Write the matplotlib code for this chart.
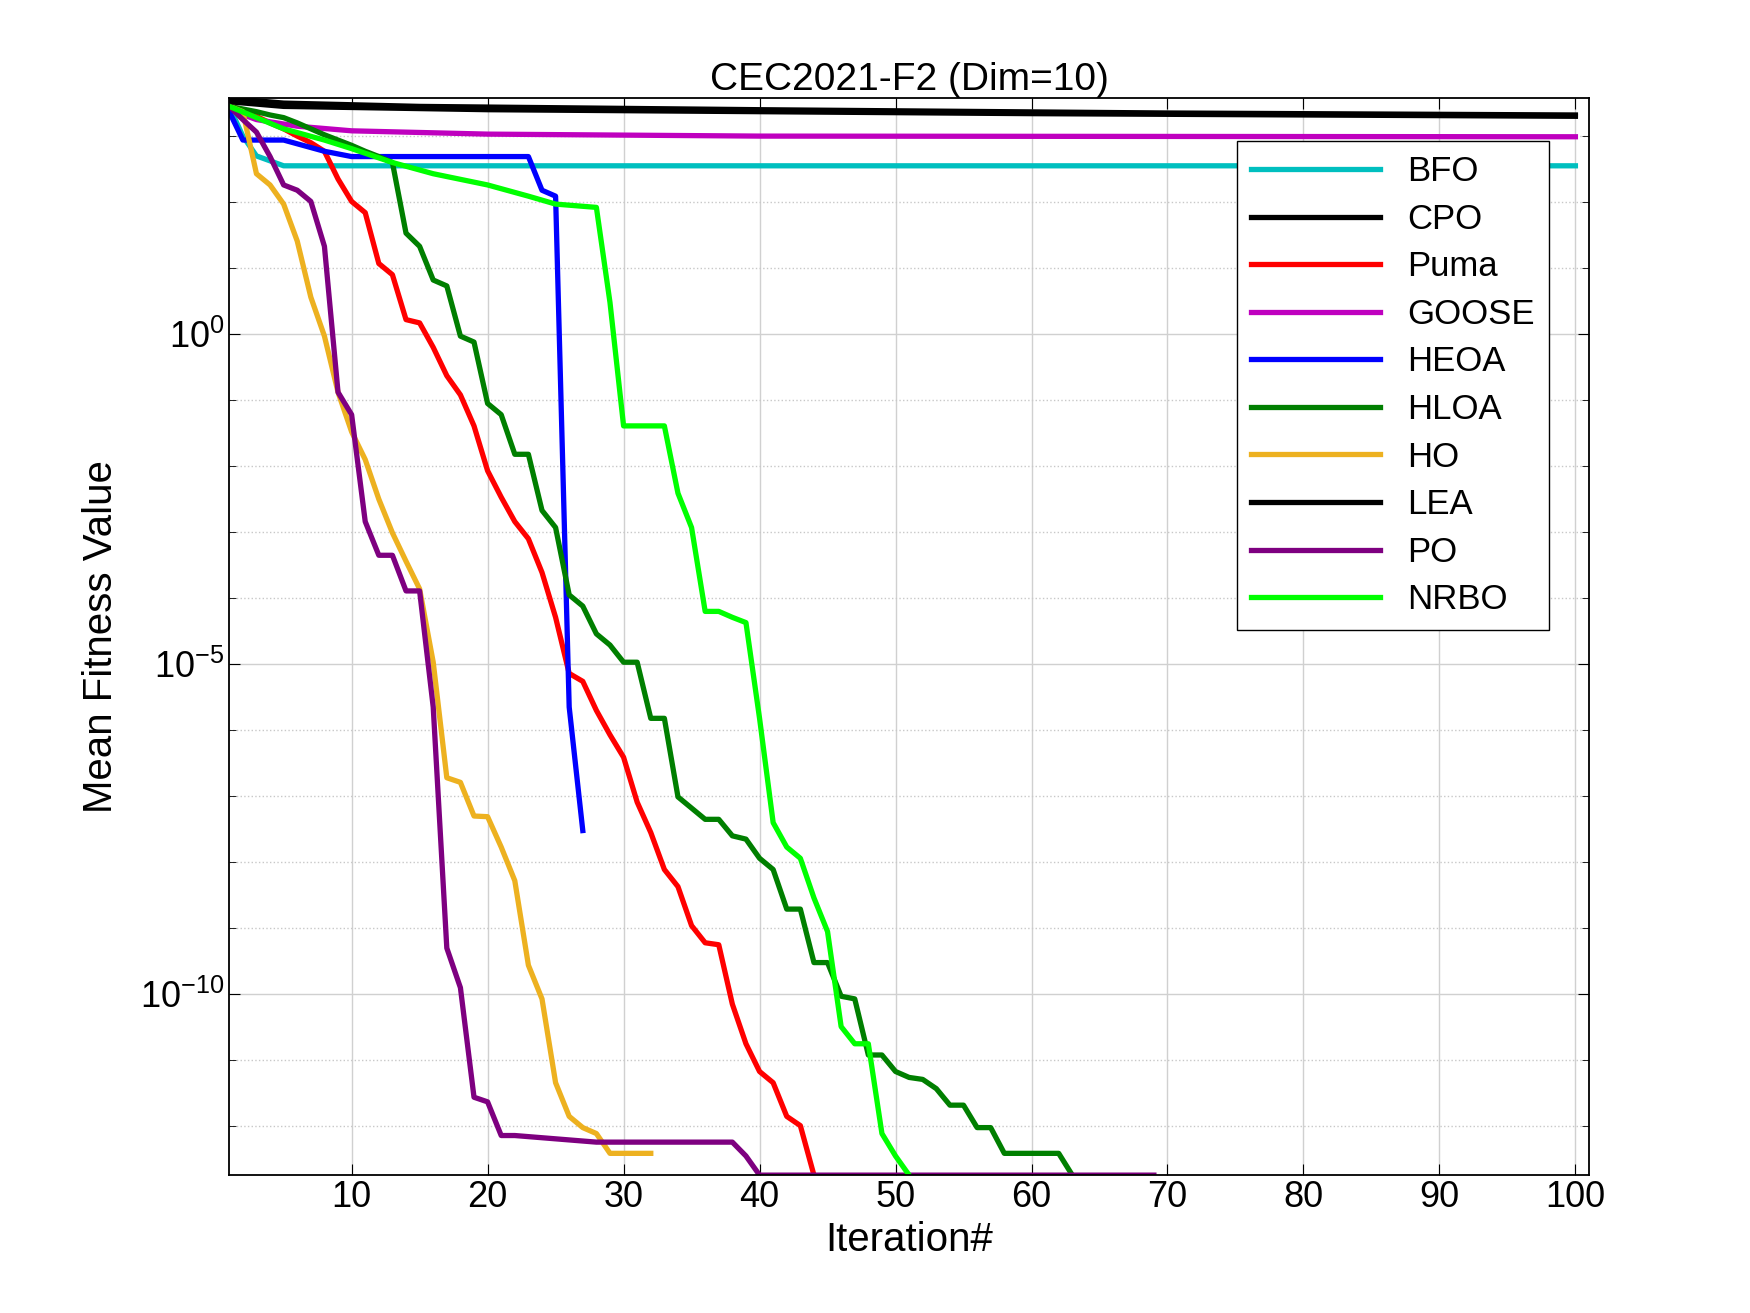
import numpy as np
import matplotlib.pyplot as plt
from matplotlib.ticker import LogLocator, NullFormatter, FixedLocator

plt.rcParams['font.family'] = ['Liberation Sans', 'DejaVu Sans']
plt.rcParams['mathtext.fontset'] = 'custom'
plt.rcParams['mathtext.rm'] = 'Liberation Sans'
plt.rcParams['mathtext.it'] = 'Liberation Sans:italic'

# log10 of mean fitness
bfo_it = [1, 2, 3, 5, 100]
bfo_lg = [3.45, 3.0, 2.7, 2.55, 2.55]
cpo_it = [1, 5, 15, 40, 70, 100]
cpo_lg = [3.57, 3.50, 3.45, 3.40, 3.35, 3.32]
lea_it = [1, 5, 20, 60, 100]
lea_lg = [3.52, 3.45, 3.40, 3.34, 3.30]
goose_it = [1, 3, 6, 10, 20, 40, 100]
goose_lg = [3.40, 3.25, 3.15, 3.08, 3.03, 3.00, 2.99]
heoa_it = [1, 2, 5, 8, 10, 23, 24, 25, 26, 27]
heoa_lg = [3.37, 2.94, 2.94, 2.77, 2.69, 2.69, 2.18, 2.09, -5.65, -7.52]
hloa_it = list(range(1, 64))
hloa_lg = [3.45, 3.41, 3.37, 3.32, 3.28, 3.20, 3.11, 3.02, 2.94, 2.86, 2.77, 2.69, 2.60,
           1.53, 1.33, 0.82, 0.73, -0.03, -0.12, -1.05, -1.22, -1.82, -1.82, -2.67, -2.93,
           -3.95, -4.12, -4.54, -4.71, -4.97, -4.97, -5.82, -5.82, -7.01, -7.18, -7.35,
           -7.35, -7.60, -7.65, -7.94, -8.11, -8.71, -8.71, -9.52, -9.52, -10.03, -10.07,
           -10.92, -10.92, -11.17, -11.26, -11.29, -11.43, -11.68, -11.68, -12.02, -12.02,
           -12.41, -12.41, -12.41, -12.41, -12.41, -12.74]
puma_it = list(range(1, 45))
puma_lg = [3.45, 3.40, 3.30, 3.20, 3.11, 3.00, 2.90, 2.77, 2.35, 2.01, 1.84, 1.07, 0.90,
           0.22, 0.17, -0.20, -0.63, -0.92, -1.39, -2.07, -2.47, -2.84, -3.10, -3.61,
           -4.29, -5.14, -5.26, -5.70, -6.07, -6.41, -7.09, -7.55, -8.11, -8.37, -8.96,
           -9.22, -9.25, -10.15, -10.75, -11.17, -11.34, -11.85, -11.99, -12.74]
ho_it = list(range(1, 33))
ho_lg = [3.45, 3.37, 2.43, 2.26, 1.97, 1.41, 0.56, -0.03, -0.88, -1.48, -1.90, -2.50,
         -3.01, -3.44, -3.86, -4.97, -6.72, -6.79, -7.30, -7.31, -7.77, -8.28, -9.56,
         -10.07, -11.34, -11.85, -12.02, -12.11, -12.41, -12.41, -12.41, -12.41]
po_it = list(range(1, 23)) + [28, 38, 39, 40, 69]
po_lg = [3.45, 3.25, 3.06, 2.69, 2.26, 2.18, 2.01, 1.33, -0.88, -1.22, -2.84, -3.35,
         -3.35, -3.89, -3.89, -5.65, -9.30, -9.90, -11.56, -11.63, -12.14, -12.14,
         -12.24, -12.24, -12.45, -12.74, -12.74]
nrbo_it = [1, 5, 8, 10, 13, 16, 20, 23, 25, 28, 29, 30, 33, 34, 35, 36, 37, 38, 39, 40,
           41, 42, 43, 44, 45, 46, 47, 48, 49, 50, 51]
nrbo_lg = [3.45, 3.11, 2.94, 2.81, 2.60, 2.43, 2.26, 2.09, 1.97, 1.92, 0.48, -1.39,
           -1.39, -2.41, -2.93, -4.20, -4.20, -4.29, -4.37, -5.82, -7.40, -7.77, -7.94,
           -8.54, -9.05, -10.49, -10.75, -10.75, -12.11, -12.45, -12.74]

series = [
    ('BFO', bfo_it, bfo_lg, '#00BFBF'),
    ('CPO', cpo_it, cpo_lg, 'black'),
    ('Puma', puma_it, puma_lg, '#FF0000'),
    ('GOOSE', goose_it, goose_lg, '#BF00BF'),
    ('HEOA', heoa_it, heoa_lg, '#0000FF'),
    ('HLOA', hloa_it, hloa_lg, '#007F00'),
    ('HO', ho_it, ho_lg, '#EDB120'),
    ('LEA', lea_it, lea_lg, 'black'),
    ('PO', po_it, po_lg, '#7E0080'),
    ('NRBO', nrbo_it, nrbo_lg, '#00FF00'),
]

fig = plt.figure(figsize=(17.5, 13.13), dpi=100)
ax = fig.add_axes([0.131, 0.105, 0.777, 0.82])
for name, it, lg, c in series:
    ax.semilogy(it, 10.0 ** np.array(lg), color=c, lw=3.8, label=name)

ax.set_xlim(1, 101)
ax.set_ylim(10 ** -12.74, 10 ** 3.57)
ax.set_xticks(range(10, 101, 10))
ax.yaxis.set_major_locator(FixedLocator([1e0, 1e-5, 1e-10]))
ax.yaxis.set_minor_locator(LogLocator(base=10, subs=[1.0], numticks=30))
ax.yaxis.set_minor_formatter(NullFormatter())
ax.grid(True, which='major', color='#d0d0d0', lw=1)
ax.grid(True, which='minor', axis='y', color='#c8c8c8', ls=':', lw=1)
ax.tick_params(direction='in', which='both', top=True, right=True, labelsize=26, length=8)
ax.tick_params(which='minor', length=5)
for s in ax.spines.values():
    s.set_linewidth(1.3)
ax.set_title('CEC2021-F2 (Dim=10)', fontsize=28)
ax.set_xlabel('Iteration#', fontsize=29, labelpad=4)
ax.set_ylabel('Mean Fitness Value', fontsize=29, labelpad=14)
ax.legend(loc='upper right', bbox_to_anchor=(0.978, 0.97), fontsize=25, fancybox=False,
          edgecolor='black', framealpha=1, handlelength=3.7, labelspacing=0.42,
          borderaxespad=0.3)
fig.savefig('out.png')
